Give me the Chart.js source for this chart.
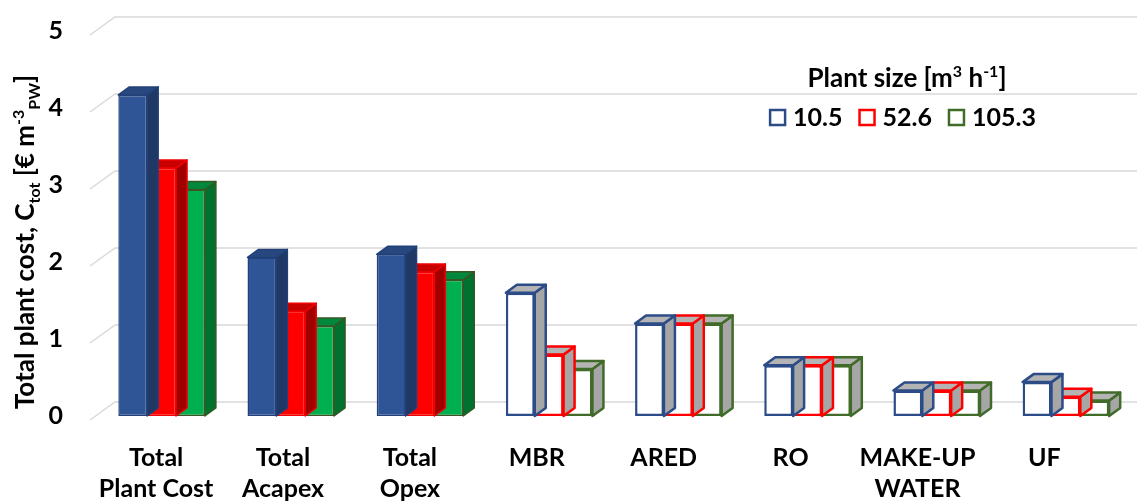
<!DOCTYPE html>
<html>
<head>
<meta charset="utf-8">
<script src="https://cdn.jsdelivr.net/npm/chart.js@4.4.0/dist/chart.umd.min.js"></script>
<style>
  html, body { margin: 0; padding: 0; background: #ffffff; }
  #wrap { width: 1137px; height: 501px; position: relative; }
</style>
</head>
<body>
<div id="wrap"><canvas id="costChart"></canvas></div>
<script>
// values (€ per m3 of product water)
var categories = [['Total', 'Plant Cost'], ['Total', 'Acapex'], ['Total', 'Opex'], 'MBR', 'ARED', 'RO', ['MAKE-UP', 'WATER'], 'UF'];
var plantSizes = ['10.5', '52.6', '105.3'];
var cost10_5 = [4.17, 2.06, 2.10, 1.60, 1.20, 0.66, 0.33, 0.44];
var cost52_6 = [3.22, 1.36, 1.87, 0.80, 1.20, 0.66, 0.33, 0.25];
var cost105_3 = [2.94, 1.17, 1.77, 0.61, 1.20, 0.66, 0.33, 0.20];
var yTicks = [0, 1, 2, 3, 4, 5];

var FONT = 'Lato';
var filledCats = 3; // first three groups are solid, the rest open boxes
var depthX = 11, depthY = 8; // bar depth (oblique 3D look)

var styles = [
    { front: '#2F5597', top: '#28477F', side: '#1F3864', edge: '#22417A', open: '#2C4C88' },
    { front: '#FF0000', top: '#C80000', side: '#A00000', edge: '#F00000', open: '#FF0000' },
    { front: '#00B050', top: '#00893D', side: '#00722F', edge: '#385723', open: '#416B29' }
];

function perCat(solid, open) {
    return categories.map(function (c, i) { return i < filledCats ? solid : open; });
}

// small helper for text with sub/superscripts: parts = [text, 0 | 1 (sup) | -1 (sub)]
function richText(ctx, parts, x, y, size) {
    var big = 'bold ' + size + 'px ' + FONT;
    var small = 'bold ' + Math.round(size * 0.62) + 'px ' + FONT;
    var w = 0;
    parts.forEach(function (p) {
        ctx.font = p[1] ? small : big;
        w += ctx.measureText(p[0]).width;
    });
    var cx = x - w / 2;
    ctx.textAlign = 'left';
    ctx.textBaseline = 'alphabetic';
    parts.forEach(function (p) {
        ctx.font = p[1] ? small : big;
        var dy = p[1] === 1 ? -size * 0.38 : (p[1] === -1 ? size * 0.22 : 0);
        ctx.fillText(p[0], cx, y + dy);
        cx += ctx.measureText(p[0]).width;
    });
}

// back wall gridlines with the short diagonal at the left
var backWall = {
    id: 'backWall',
    beforeDatasetsDraw: function (chart) {
        var ctx = chart.ctx, ys = chart.scales.y, a = chart.chartArea;
        ctx.save();
        ctx.strokeStyle = '#D9D9D9';
        ctx.lineWidth = 1.5;
        yTicks.forEach(function (v) {
            var py = ys.getPixelForValue(v);
            ctx.beginPath();
            ctx.moveTo(a.left - 7, py + 4);
            ctx.lineTo(a.left + 18, py - 14);
            ctx.lineTo(chart.width, py - 14);
            ctx.stroke();
        });
        ctx.restore();
    }
};

// top and side faces, drawn just before each dataset's front faces
var bars3d = {
    id: 'bars3d',
    beforeDatasetDraw: function (chart, args) {
        var ctx = chart.ctx, st = styles[args.index];
        args.meta.data.forEach(function (bar, i) {
            var p = bar.getProps(['x', 'y', 'base', 'width'], true);
            var l = p.x - p.width / 2, r = p.x + p.width / 2;
            var t = Math.min(p.y, p.base), b = Math.max(p.y, p.base);
            var solid = i < filledCats;
            ctx.save();
            ctx.lineJoin = 'round';
            ctx.lineWidth = solid ? 1.5 : 2.5;
            ctx.strokeStyle = solid ? st.edge : st.open;
            // side
            ctx.beginPath();
            ctx.moveTo(r, t);
            ctx.lineTo(r + depthX, t - depthY);
            ctx.lineTo(r + depthX, b - depthY);
            ctx.lineTo(r, b);
            ctx.closePath();
            ctx.fillStyle = solid ? st.side : '#A6A6A6';
            ctx.fill();
            ctx.stroke();
            // top
            ctx.beginPath();
            ctx.moveTo(l, t);
            ctx.lineTo(l + depthX, t - depthY);
            ctx.lineTo(r + depthX, t - depthY);
            ctx.lineTo(r, t);
            ctx.closePath();
            ctx.fillStyle = solid ? st.top : '#B4B4B4';
            ctx.fill();
            ctx.stroke();
            ctx.restore();
        });
    }
};

// y title and legend (both need sub/superscripts)
var texts = {
    id: 'texts',
    afterDraw: function (chart) {
        var ctx = chart.ctx;
        ctx.save();
        ctx.fillStyle = '#000000';
        ctx.translate(25, 242);
        ctx.rotate(-Math.PI / 2);
        richText(ctx, [['Total plant cost, C', 0], ['tot', -1], [' [€ m', 0], ['-3', 1], ['PW', -1], [']', 0]], 0, 9, 26);
        ctx.restore();

        ctx.save();
        ctx.fillStyle = '#000000';
        richText(ctx, [['Plant size [m', 0], ['3', 1], [' h', 0], ['-1', 1], [']', 0]], 907, 87, 26);
        ctx.font = 'bold 25px ' + FONT;
        var box = 15, gapIn = 8, gapOut = 17;
        var widths = chart.data.datasets.map(function (ds) { return ctx.measureText(ds.label).width; });
        var total = widths.reduce(function (s, w) { return s + box + gapIn + w; }, 0) + gapOut * (widths.length - 1);
        var x = 903 - total / 2;
        ctx.textAlign = 'left';
        ctx.textBaseline = 'alphabetic';
        chart.data.datasets.forEach(function (ds, k) {
            ctx.lineWidth = 2.5;
            ctx.strokeStyle = styles[k].open;
            ctx.fillStyle = '#FFFFFF';
            ctx.fillRect(x, 110, box, box);
            ctx.strokeRect(x, 110, box, box);
            ctx.fillStyle = '#000000';
            ctx.fillText(ds.label, x + box + gapIn, 126);
            x += box + gapIn + widths[k] + gapOut;
        });
        ctx.restore();
    }
};

var chartData = {
    labels: categories,
    datasets: [cost10_5, cost52_6, cost105_3].map(function (vals, k) {
        return {
            label: plantSizes[k],
            data: vals,
            backgroundColor: perCat(styles[k].front, '#FFFFFF'),
            borderColor: perCat(styles[k].edge, styles[k].open),
            borderWidth: perCat(1.5, 2.5),
            borderSkipped: false,
            categoryPercentage: 0.67,
            barPercentage: 1.0
        };
    })
};

var ctx = document.getElementById('costChart');

if (ctx) {
    var costChart = new Chart(ctx, {
        type: 'bar',
        data: chartData,
        options: {
            responsive: true,
            maintainAspectRatio: false,
            animation: false,
            layout: { padding: { top: 31, right: 6.5, left: 0, bottom: 0 } },
            scales: {
                x: {
                    type: 'category',
                    display: false
                },
                xl: {
                    // labels sit on the front edge of the floor, a bit tighter than the bars
                    type: 'linear',
                    position: 'bottom',
                    offset: false,
                    bounds: 'data',
                    min: -0.466,
                    max: 7.679,
                    afterBuildTicks: function (s) {
                        s.ticks = categories.map(function (c, i) { return { value: i }; });
                    },
                    afterFit: function (s) {
                        s.height = 85;
                        s.paddingLeft = 0;
                        s.paddingRight = 0;
                    },
                    grid: { display: false },
                    border: { display: false },
                    ticks: {
                        autoSkip: false,
                        maxRotation: 0,
                        padding: 19,
                        color: '#000000',
                        font: { family: FONT, size: 25, weight: 'bold', lineHeight: 1.22 },
                        callback: function (v, i) { return categories[i]; }
                    }
                },
                y: {
                    min: 0,
                    max: 5,
                    afterFit: function (s) {
                        s.width = 97;
                        s.paddingTop = 0;
                        s.paddingBottom = 0;
                    },
                    afterBuildTicks: function (s) {
                        s.ticks = yTicks.map(function (v) { return { value: v }; });
                    },
                    grid: { display: false },
                    border: { display: false },
                    ticks: {
                        padding: 26,
                        color: '#000000',
                        font: { family: FONT, size: 25, weight: 'bold' }
                    }
                }
            },
            plugins: {
                legend: { display: false },
                tooltip: { enabled: false }
            }
        },
        plugins: [backWall, bars3d, texts]
    });
} else {
    console.error("Canvas element with ID 'costChart' not found.");
}
</script>
</body>
</html>
